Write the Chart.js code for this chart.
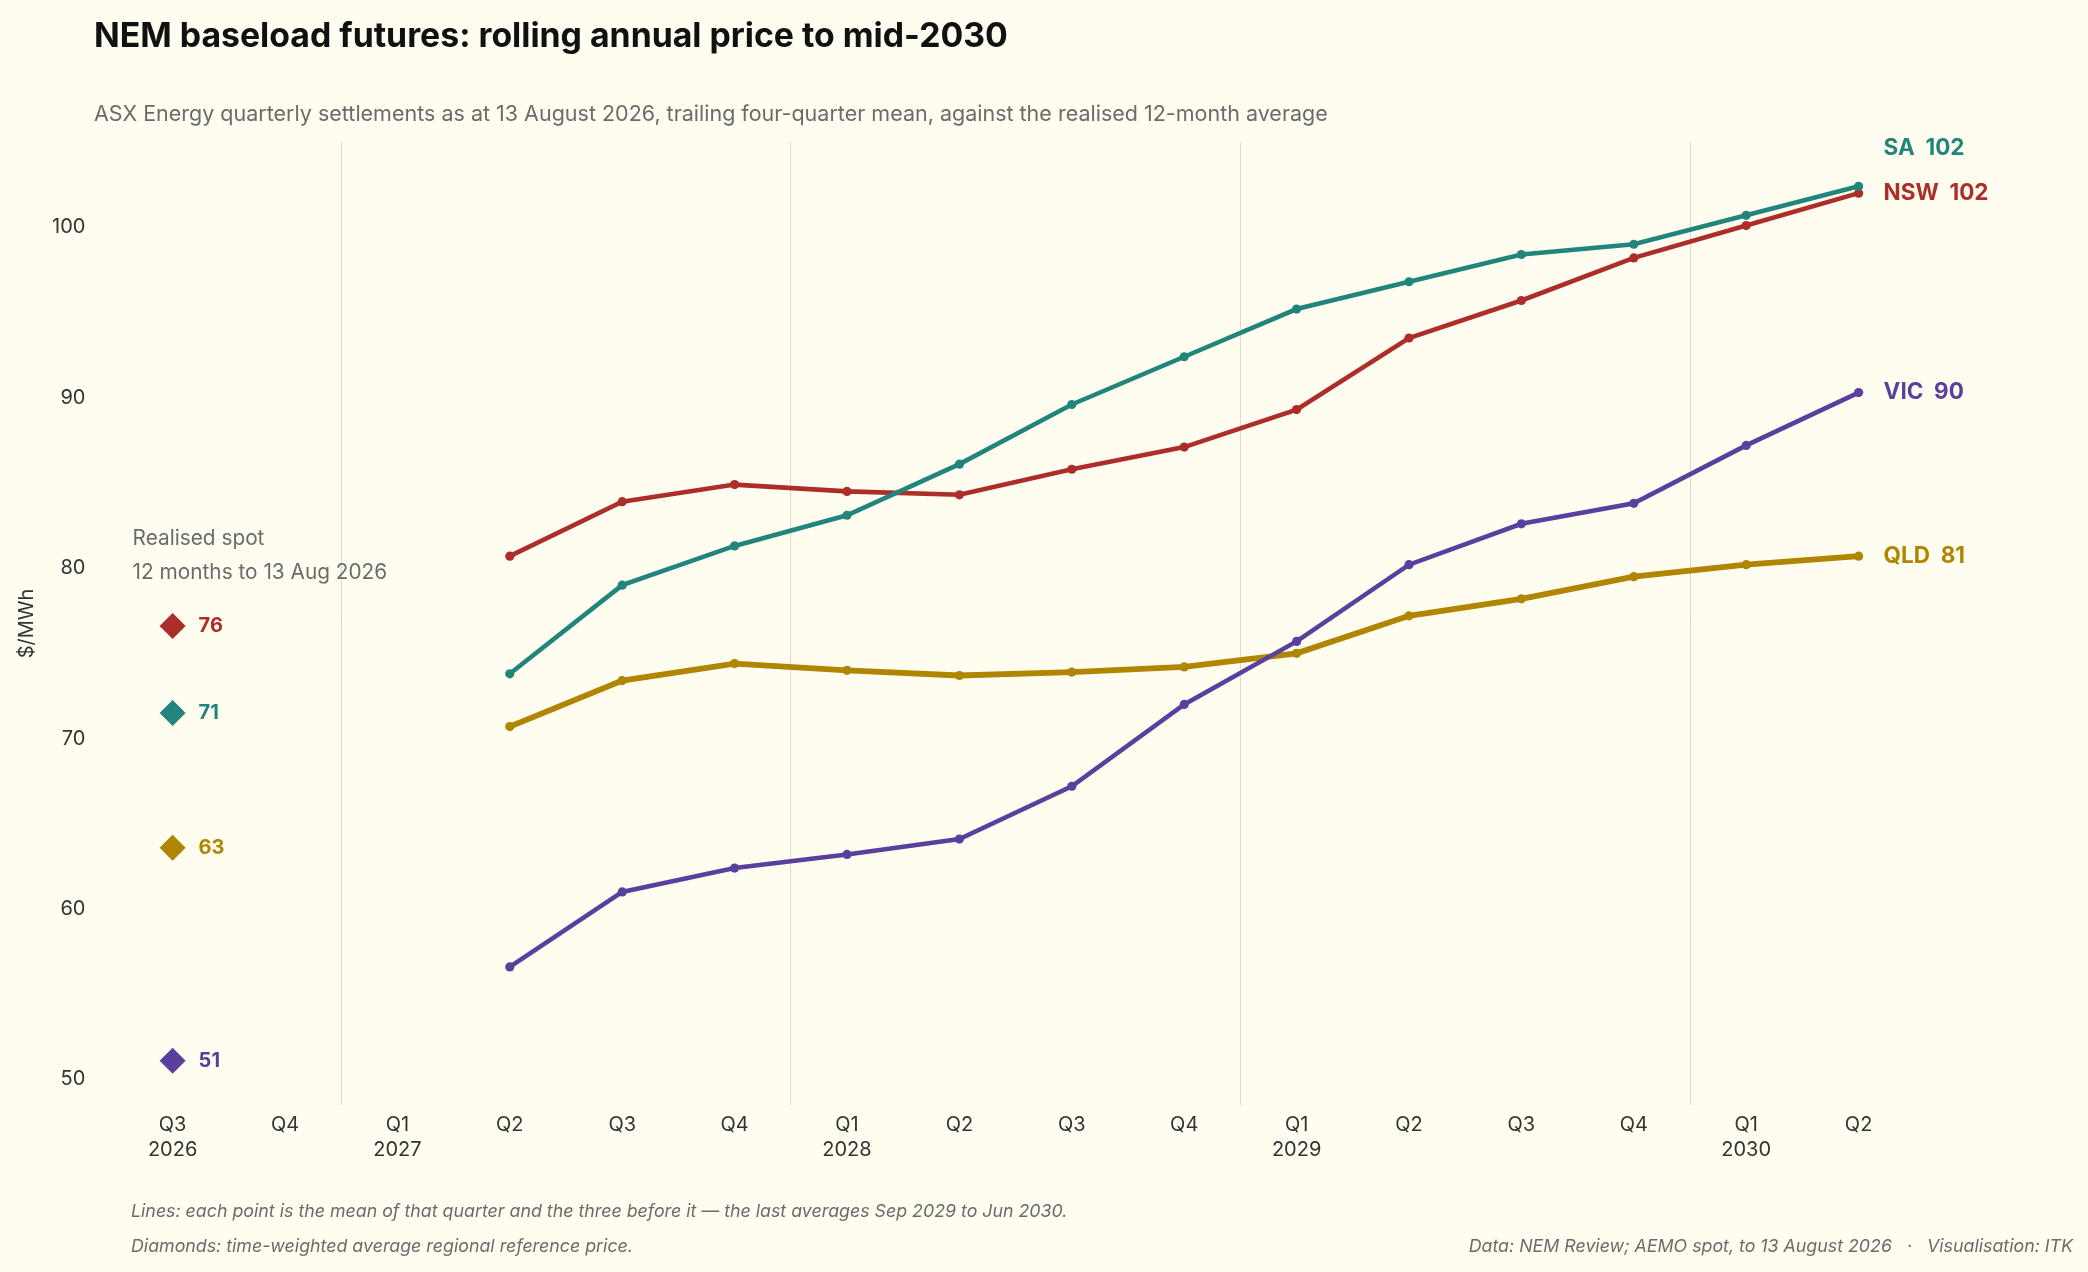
<!DOCTYPE html>
<html>
<head>
<meta charset="utf-8">
<title>NEM baseload futures</title>
<script src="https://cdn.jsdelivr.net/npm/chart.js@4.4.1/dist/chart.umd.min.js"></script>
<style>
  html, body { margin: 0; padding: 0; background: #FFFDF0; }
  #wrap { width: 2088px; height: 1272px; }
</style>
</head>
<body>
<div id="wrap"><canvas id="chart" width="2088" height="1272"></canvas></div>
<script>
'use strict';

// ── Data ─────────────────────────────────────────────────────
const QUARTERS = [
  'Q3 2026', 'Q4 2026', 'Q1 2027', 'Q2 2027', 'Q3 2027', 'Q4 2027',
  'Q1 2028', 'Q2 2028', 'Q3 2028', 'Q4 2028', 'Q1 2029', 'Q2 2029',
  'Q3 2029', 'Q4 2029', 'Q1 2030', 'Q2 2030'
];

// trailing four-quarter mean, $/MWh (first full average is Q2 2027)
const SA_FUTURES  = [null, null, null, 73.8, 79.0, 81.3, 83.1, 86.1, 89.6, 92.4, 95.2, 96.8, 98.4, 99.0, 100.7, 102.4];
const NSW_FUTURES = [null, null, null, 80.7, 83.9, 84.9, 84.5, 84.3, 85.8, 87.1, 89.3, 93.5, 95.7, 98.2, 100.1, 102.0];
const VIC_FUTURES = [null, null, null, 56.6, 61.0, 62.4, 63.2, 64.1, 67.2, 72.0, 75.7, 80.2, 82.6, 83.8, 87.2, 90.3];
const QLD_FUTURES = [null, null, null, 70.7, 73.4, 74.4, 74.0, 73.7, 73.9, 74.2, 75.0, 77.2, 78.2, 79.5, 80.2, 80.7];

// realised spot, 12 months to 13 Aug 2026
const SPOT_REGIONS = ['NSW', 'SA', 'QLD', 'VIC'];
const SPOT_PRICE   = [76.6, 71.5, 63.6, 51.1];

const Y_TICKS = [50, 60, 70, 80, 90, 100];

// ── Styling ──────────────────────────────────────────────────
const COLORS = {
  SA:  '#22857B',
  NSW: '#AD2D29',
  VIC: '#5A3F9E',
  QLD: '#B08500'
};
const BG        = '#FFFDF0';
const FONT      = "Inter, 'Liberation Sans', Arial, sans-serif";
const TXT_DARK  = '#333333';
const TXT_MUTED = '#6B6B6B';

Chart.defaults.font.family = FONT;

function lineSeries(region, data, width, order) {
  return {
    label: region,
    data,
    borderColor: COLORS[region],
    backgroundColor: COLORS[region],
    borderWidth: width,
    pointRadius: 4.6,
    pointHoverRadius: 4.6,
    pointBorderWidth: 0,
    tension: 0,
    order
  };
}

// Background fill
const backgroundPlugin = {
  id: 'background',
  beforeDraw(chart) {
    const c = chart.ctx;
    c.save();
    c.fillStyle = BG;
    c.fillRect(0, 0, chart.width, chart.height);
    c.restore();
  }
};

// Titles, notes, end-of-line and diamond labels
const textPlugin = {
  id: 'texts',
  afterDraw(chart) {
    const c = chart.ctx;
    const xs = chart.scales.x;
    const ys = chart.scales.y;
    c.save();
    c.textBaseline = 'middle';

    // title + subtitle
    c.fillStyle = '#111111';
    c.font = `bold 33.8px ${FONT}`;
    c.fillText('NEM baseload futures: rolling annual price to mid-2030', 94, 37);
    c.fillStyle = TXT_MUTED;
    c.font = `21.5px ${FONT}`;
    c.fillText('ASX Energy quarterly settlements as at 13 August 2026, trailing four-quarter mean, against the realised 12-month average', 94, 115);

    // realised spot block
    const x0 = xs.getPixelForValue(0);
    const yTop = ys.getPixelForValue(Math.max(...SPOT_PRICE));
    c.font = `20.8px ${FONT}`;
    c.fillStyle = TXT_MUTED;
    c.fillText('Realised spot', x0 - 40, yTop - 87);
    c.fillText('12 months to 13 Aug 2026', x0 - 40, yTop - 53);

    c.font = `bold 20px ${FONT}`;
    SPOT_REGIONS.forEach((r, i) => {
      c.fillStyle = COLORS[r];
      c.fillText(String(Math.floor(SPOT_PRICE[i])), x0 + 26, ys.getPixelForValue(SPOT_PRICE[i]));
    });

    // end labels, nudged apart where they collide
    const last = QUARTERS.length - 1;
    const ends = [
      ['SA', SA_FUTURES], ['NSW', NSW_FUTURES], ['VIC', VIC_FUTURES], ['QLD', QLD_FUTURES]
    ].map(([r, d]) => ({ r, v: d[last], y: ys.getPixelForValue(d[last]) }))
     .sort((a, b) => b.y - a.y);
    for (let i = 1; i < ends.length; i++) {
      if (ends[i].y > ends[i - 1].y - 45) ends[i].y = ends[i - 1].y - 45;
    }
    c.font = `bold 22.5px ${FONT}`;
    const xEnd = xs.getPixelForValue(last) + 25;
    ends.forEach(e => {
      c.fillStyle = COLORS[e.r];
      c.fillText(`${e.r}  ${Math.round(e.v)}`, xEnd, e.y);
    });

    // footnotes
    c.fillStyle = TXT_MUTED;
    c.font = `italic 17.8px ${FONT}`;
    c.fillText('Lines: each point is the mean of that quarter and the three before it \u2014 the last averages Sep 2029 to Jun 2030.', 131, 1212);
    c.fillText('Diamonds: time-weighted average regional reference price.', 131, 1247);
    c.textAlign = 'right';
    c.fillText('Data: NEM Review; AEMO spot, to 13 August 2026   \u00B7   Visualisation: ITK', 2073, 1247);
    c.restore();
  }
};

const ctx = document.getElementById('chart').getContext('2d');
new Chart(ctx, {
  type: 'line',
  data: {
    labels: QUARTERS,
    datasets: [
      lineSeries('SA', SA_FUTURES, 4.6, 2),
      lineSeries('NSW', NSW_FUTURES, 4.6, 3),
      lineSeries('VIC', VIC_FUTURES, 4.6, 1),
      lineSeries('QLD', QLD_FUTURES, 5.8, 4),
      {
        label: 'Realised spot',
        data: SPOT_PRICE.map(v => ({ x: QUARTERS[0], y: v })),
        showLine: false,
        pointStyle: 'rectRot',
        pointRadius: 13,
        pointHoverRadius: 13,
        pointBorderWidth: 0,
        pointBackgroundColor: SPOT_REGIONS.map(r => COLORS[r]),
        order: 0
      }
    ]
  },
  options: {
    responsive: false,
    devicePixelRatio: 1,
    animation: false,
    layout: { padding: { top: 142, right: 173.2, bottom: 107, left: 0 } },
    plugins: {
      legend: { display: false },
      tooltip: { enabled: false }
    },
    scales: {
      x: {
        offset: true,
        afterFit: s => { s.height = 60; },
        border: { display: false },
        grid: {
          offset: true,
          drawTicks: false,
          lineWidth: 1,
          color: c => {
            const q = QUARTERS[c.index];
            return q && q.startsWith('Q1') ? '#DCDAD0' : 'rgba(0,0,0,0)';
          }
        },
        ticks: {
          padding: 7.5,
          autoSkip: false,
          maxRotation: 0,
          color: TXT_DARK,
          font: { size: 20, lineHeight: 1.25 },
          callback(value, index) {
            const [q, yr] = this.getLabelForValue(value).split(' ');
            return (q === 'Q1' || index === 0) ? [q, yr] : q;
          }
        }
      },
      y: {
        min: 48.5,
        max: 105,
        afterBuildTicks: s => { s.ticks = Y_TICKS.map(v => ({ value: v })); },
        afterFit: s => { s.width = 116.4; },
        border: { display: false },
        grid: { display: false, drawTicks: false },
        ticks: { padding: 31, color: TXT_DARK, font: { size: 20 } },
        title: {
          display: true,
          text: '$/MWh',
          color: TXT_DARK,
          font: { size: 20 },
          padding: { top: 15, bottom: 0 }
        }
      }
    }
  },
  plugins: [backgroundPlugin, textPlugin]
});
</script>
</body>
</html>
